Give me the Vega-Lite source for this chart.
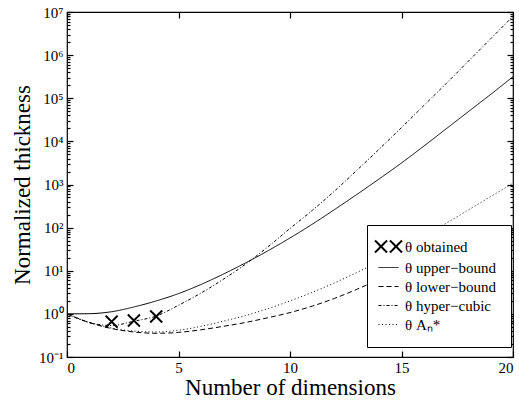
{
  "$schema": "https://vega.github.io/schema/vega-lite/v6.json",
  "width": 446,
  "height": 345,
  "autosize": "none",
  "padding": {"left": 67, "top": 12, "right": 6, "bottom": 44},
  "background": "white",
  "config": {
    "view": {"stroke": "black", "strokeWidth": 1.2},
    "font": "Liberation Serif",
    "axis": {"grid": false, "domain": false, "tickColor": "black", "labelColor": "black", "titleColor": "black", "labelFont": "Liberation Serif", "titleFont": "Liberation Serif", "labelFontSize": 15, "titleFontSize": 23, "titleFontWeight": "normal", "tickWidth": 1.2}
  },
  "datasets": {
    "lines": [
      {"series": "θ upper−bound", "n": 0, "theta": 1},
      {"series": "θ upper−bound", "n": 1, "theta": 1.01},
      {"series": "θ upper−bound", "n": 2, "theta": 1.122},
      {"series": "θ upper−bound", "n": 3, "theta": 1.445},
      {"series": "θ upper−bound", "n": 4, "theta": 1.995},
      {"series": "θ upper−bound", "n": 5, "theta": 2.951},
      {"series": "θ upper−bound", "n": 6, "theta": 4.786},
      {"series": "θ upper−bound", "n": 7, "theta": 8.318},
      {"series": "θ upper−bound", "n": 8, "theta": 15.14},
      {"series": "θ upper−bound", "n": 9, "theta": 28.84},
      {"series": "θ upper−bound", "n": 10, "theta": 57.54},
      {"series": "θ upper−bound", "n": 11, "theta": 120.2},
      {"series": "θ upper−bound", "n": 12, "theta": 263.0},
      {"series": "θ upper−bound", "n": 13, "theta": 588.8},
      {"series": "θ upper−bound", "n": 14, "theta": 1349},
      {"series": "θ upper−bound", "n": 15, "theta": 3162},
      {"series": "θ upper−bound", "n": 16, "theta": 7762},
      {"series": "θ upper−bound", "n": 17, "theta": 19498},
      {"series": "θ upper−bound", "n": 18, "theta": 48978},
      {"series": "θ upper−bound", "n": 19, "theta": 123027},
      {"series": "θ upper−bound", "n": 20, "theta": 316228},
      {"series": "θ lower−bound", "n": 0, "theta": 1},
      {"series": "θ lower−bound", "n": 1, "theta": 0.631},
      {"series": "θ lower−bound", "n": 2, "theta": 0.457},
      {"series": "θ lower−bound", "n": 3, "theta": 0.38},
      {"series": "θ lower−bound", "n": 4, "theta": 0.355},
      {"series": "θ lower−bound", "n": 5, "theta": 0.372},
      {"series": "θ lower−bound", "n": 6, "theta": 0.427},
      {"series": "θ lower−bound", "n": 7, "theta": 0.513},
      {"series": "θ lower−bound", "n": 8, "theta": 0.631},
      {"series": "θ lower−bound", "n": 9, "theta": 0.813},
      {"series": "θ lower−bound", "n": 10, "theta": 1.072},
      {"series": "θ lower−bound", "n": 11, "theta": 1.514},
      {"series": "θ lower−bound", "n": 12, "theta": 2.291},
      {"series": "θ lower−bound", "n": 13, "theta": 3.715},
      {"series": "θ lower−bound", "n": 14, "theta": 6.31},
      {"series": "θ lower−bound", "n": 15, "theta": 10.0},
      {"series": "θ lower−bound", "n": 16, "theta": 15.1},
      {"series": "θ lower−bound", "n": 17, "theta": 22.9},
      {"series": "θ lower−bound", "n": 18, "theta": 35.5},
      {"series": "θ lower−bound", "n": 19, "theta": 56.2},
      {"series": "θ lower−bound", "n": 20, "theta": 89.1},
      {"series": "θ hyper−cubic", "n": 0, "theta": 1},
      {"series": "θ hyper−cubic", "n": 1, "theta": 0.631},
      {"series": "θ hyper−cubic", "n": 2, "theta": 0.537},
      {"series": "θ hyper−cubic", "n": 3, "theta": 0.676},
      {"series": "θ hyper−cubic", "n": 4, "theta": 0.891},
      {"series": "θ hyper−cubic", "n": 5, "theta": 1.585},
      {"series": "θ hyper−cubic", "n": 6, "theta": 3.02},
      {"series": "θ hyper−cubic", "n": 7, "theta": 6.31},
      {"series": "θ hyper−cubic", "n": 8, "theta": 14.13},
      {"series": "θ hyper−cubic", "n": 9, "theta": 35.48},
      {"series": "θ hyper−cubic", "n": 10, "theta": 95.5},
      {"series": "θ hyper−cubic", "n": 11, "theta": 251.2},
      {"series": "θ hyper−cubic", "n": 12, "theta": 707.9},
      {"series": "θ hyper−cubic", "n": 13, "theta": 2138},
      {"series": "θ hyper−cubic", "n": 14, "theta": 6607},
      {"series": "θ hyper−cubic", "n": 15, "theta": 20893},
      {"series": "θ hyper−cubic", "n": 16, "theta": 67608},
      {"series": "θ hyper−cubic", "n": 17, "theta": 218776},
      {"series": "θ hyper−cubic", "n": 18, "theta": 724436},
      {"series": "θ hyper−cubic", "n": 19, "theta": 2398833},
      {"series": "θ hyper−cubic", "n": 20, "theta": 7943282},
      {"series": "θ Aₙ*", "n": 0, "theta": 1},
      {"series": "θ Aₙ*", "n": 1, "theta": 0.631},
      {"series": "θ Aₙ*", "n": 2, "theta": 0.468},
      {"series": "θ Aₙ*", "n": 3, "theta": 0.398},
      {"series": "θ Aₙ*", "n": 4, "theta": 0.38},
      {"series": "θ Aₙ*", "n": 5, "theta": 0.417},
      {"series": "θ Aₙ*", "n": 6, "theta": 0.513},
      {"series": "θ Aₙ*", "n": 7, "theta": 0.676},
      {"series": "θ Aₙ*", "n": 8, "theta": 0.912},
      {"series": "θ Aₙ*", "n": 9, "theta": 1.318},
      {"series": "θ Aₙ*", "n": 10, "theta": 1.995},
      {"series": "θ Aₙ*", "n": 11, "theta": 3.162},
      {"series": "θ Aₙ*", "n": 12, "theta": 5.248},
      {"series": "θ Aₙ*", "n": 13, "theta": 9.12},
      {"series": "θ Aₙ*", "n": 14, "theta": 16.6},
      {"series": "θ Aₙ*", "n": 15, "theta": 31.62},
      {"series": "θ Aₙ*", "n": 16, "theta": 63.1},
      {"series": "θ Aₙ*", "n": 17, "theta": 125.9},
      {"series": "θ Aₙ*", "n": 18, "theta": 257.0},
      {"series": "θ Aₙ*", "n": 19, "theta": 524.8},
      {"series": "θ Aₙ*", "n": 20, "theta": 1072}
    ],
    "obtained": [
      {"series": "θ obtained", "n": 2, "theta": 0.66},
      {"series": "θ obtained", "n": 3, "theta": 0.70},
      {"series": "θ obtained", "n": 4, "theta": 0.87}
    ]
  },
  "layer": [
    {
      "data": {"name": "lines"},
      "mark": {"type": "line", "interpolate": "monotone", "strokeWidth": 1, "color": "black", "clip": true},
      "encoding": {
        "x": {"field": "n", "type": "quantitative", "scale": {"domain": [0, 20], "nice": false},
          "axis": {"orient": "bottom", "values": [0, 5, 10, 15, 20], "tickSize": -6, "labelPadding": 9, "title": "Number of dimensions", "titlePadding": 1}},
        "y": {"field": "theta", "type": "quantitative", "scale": {"type": "log", "domain": [0.1, 10000000], "nice": false},
          "axis": {"orient": "left", "values": [0.1, 1, 10, 100, 1000, 10000, 100000, 1000000, 10000000], "tickSize": -6, "labelPadding": 10, "labelExpr": "'10' + ['⁻¹','⁰','¹','²','³','⁴','⁵','⁶','⁷'][round(log(datum.value)/LN10)+1]", "title": "Normalized thickness", "titlePadding": 4}},
        "strokeDash": {"field": "series", "type": "nominal",
          "scale": {"domain": ["θ obtained", "θ upper−bound", "θ lower−bound", "θ hyper−cubic", "θ Aₙ*"], "range": [[1, 0], [1, 0], [5, 3], [3, 2, 1, 2], [1, 2.5]]},
          "legend": {"orient": "none", "legendX": 300, "legendY": 213, "title": null, "fillColor": "white", "strokeColor": "black", "padding": 14, "symbolType": "stroke", "symbolSize": 400, "symbolStrokeWidth": 1, "symbolStrokeColor": "black", "labelFont": "Liberation Serif", "labelFontSize": 15, "labelColor": "black", "rowPadding": 3, "labelOffset": 9,
            "encode": {"symbols": {"update": {"shape": {"signal": "datum.value === 'θ obtained' ? 'M-1.35,-0.6L-0.15,0.6M-1.35,0.6L-0.15,-0.6M0.15,-0.6L1.35,0.6M0.15,0.6L1.35,-0.6' : 'stroke'"}, "strokeWidth": {"signal": "datum.value === 'θ obtained' ? 2 : 1"}}}}}}
      }
    },
    {
      "data": {"name": "obtained"},
      "mark": {"type": "point", "shape": "M-1,-1L1,1M-1,1L1,-1", "size": 144, "strokeWidth": 2, "color": "black", "opacity": 1},
      "encoding": {
        "x": {"field": "n", "type": "quantitative", "axis": {"orient": "top", "values": [0, 5, 10, 15, 20], "tickSize": -6, "labels": false, "title": null}},
        "y": {"field": "theta", "type": "quantitative", "axis": {"orient": "right", "values": [0.1, 1, 10, 100, 1000, 10000, 100000, 1000000, 10000000], "tickSize": -6, "labels": false, "title": null}},
        "strokeDash": {"field": "series", "type": "nominal"}
      }
    },
    {
      "data": {"name": "obtained"},
      "mark": {"type": "point", "opacity": 0},
      "encoding": {
        "x": {"field": "n", "type": "quantitative", "axis": null},
        "y": {"field": "theta", "type": "quantitative", "axis": {"orient": "left", "values": [0.2,0.3,0.4,0.5,0.6,0.7,0.8,0.9,2,3,4,5,6,7,8,9,20,30,40,50,60,70,80,90,200,300,400,500,600,700,800,900,2000,3000,4000,5000,6000,7000,8000,9000,20000,30000,40000,50000,60000,70000,80000,90000,200000,300000,400000,500000,600000,700000,800000,900000,2000000,3000000,4000000,5000000,6000000,7000000,8000000,9000000], "tickSize": -3, "labels": false, "title": null}}
      }
    },
    {
      "data": {"name": "obtained"},
      "mark": {"type": "point", "opacity": 0},
      "encoding": {
        "x": {"field": "n", "type": "quantitative", "axis": null},
        "y": {"field": "theta", "type": "quantitative", "axis": {"orient": "right", "values": [0.2,0.3,0.4,0.5,0.6,0.7,0.8,0.9,2,3,4,5,6,7,8,9,20,30,40,50,60,70,80,90,200,300,400,500,600,700,800,900,2000,3000,4000,5000,6000,7000,8000,9000,20000,30000,40000,50000,60000,70000,80000,90000,200000,300000,400000,500000,600000,700000,800000,900000,2000000,3000000,4000000,5000000,6000000,7000000,8000000,9000000], "tickSize": -3, "labels": false, "title": null}}
      }
    }
  ],
  "resolve": {"axis": {"x": "independent", "y": "independent"}}
}
